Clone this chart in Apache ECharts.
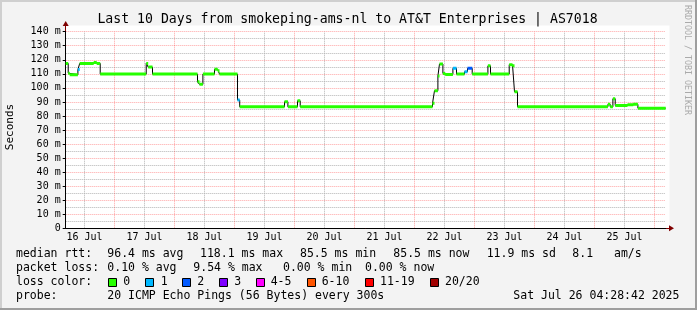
<!DOCTYPE html>
<html>
<head>
<meta charset="utf-8">
<script src="https://cdn.jsdelivr.net/npm/echarts@6/dist/echarts.min.js"></script>
<style>
html,body{margin:0;padding:0;background:#f3f3f3;}
#c{width:697px;height:310px;}
</style>
</head>
<body>
<div id="c"></div>
<script>
// ---------------- DATA ----------------
// x values are hours since 16 Jul 00:00
const rangeStart = 4.478;   // 16 Jul 04:28:42
const rangeEnd = 244.478;   // 26 Jul 04:28:42
const dayLabels = ['16 Jul','17 Jul','18 Jul','19 Jul','20 Jul','21 Jul','22 Jul','23 Jul','24 Jul','25 Jul'];
const yTickValues = [0,10,20,30,40,50,60,70,80,90,100,110,120,130,140];
const yUnit = ' m';
// median rtt step changes (ms): start hour, value, loss class index
const segStart = [4.478,5.48,6.08,9.36,10.08,15.68,16.88,18.28,36.68,37.48,39.2,57.2,58.0,59.36,64.0,65.28,66.0,73.2,74.08,92.0,93.36,97.2,98.28,151.2,152.0,153.36,154.0,155.36,156.28,159.36,160.8,164.0,165.2,167.08,173.36,174.4,181.88,183.2,184.0,185.2,221.36,222.28,223.36,224.28,229.2,231.48,233.36];
const segMedian = [117.4,110.5,109.4,113.0,117.4,118.1,117.4,109.8,117.4,114.8,109.8,104.3,102.5,109.8,113.2,112.2,109.8,91.3,86.5,90.1,86.5,90.8,86.5,89.0,98.0,108.4,117.0,110.3,109.6,113.9,109.8,111.5,113.9,109.8,115.7,109.8,116.5,115.7,97.2,86.5,88.3,86.5,92.3,87.5,88.0,88.3,85.5];
const segLoss = [0,0,0,1,0,0,0,0,0,0,0,0,0,0,0,0,0,1,0,0,0,0,0,0,0,0,0,0,0,1,0,1,2,0,0,0,0,0,0,0,0,0,0,0,0,0,0];
const lossBins = ['0','1','2','3','4-5','6-10','11-19','20/20'];
const lossColors = ['#26ff00','#00b8ff','#0059ff','#7e00ff','#ff00ff','#ff5500','#ff0000','#a10000'];
const titleText = 'Last 10 Days from smokeping-ams-nl to AT&T Enterprises | AS7018';
const yName = 'Seconds';
const medianRtt = ['median rtt:','96.4 ms avg','118.1 ms max','85.5 ms min','85.5 ms now','11.9 ms sd','8.1','am/s'];
const packetLoss = ['packet loss:','0.10 % avg','9.54 % max','0.00 % min','0.00 % now'];
const lossHeader = 'loss color:';
const probeRow = ['probe:','20 ICMP Echo Pings (56 Bytes) every 300s','Sat Jul 26 04:28:42 2025'];
const creditText = 'RRDTOOL / TOBI OETIKER';

// ---------------- LAYOUT ----------------
const W = 697, H = 310;
const PL = 65.7, PR = 665.7, PT = 31.7, PB = 228.3;
const pxPerHour = (PR - PL) / (rangeEnd - rangeStart);
const MONO = "'DejaVu Sans Mono', monospace";
const row1X = [16,107.3,200,300,393.3,486.7,572.3,614];
const row2X = [16,107.3,193.3,283,365];
const row4X = [16,107.3,513.3];
const boxX = [108.5,145.5,182.5,219.5,256.5,307.5,365.5,430.5];
const boxLabelX = [123.3,160.7,197.3,234.3,270.7,321.7,380,445];
const rowY = [254.3,268.3,282.3,296.3];
const RED = 'rgba(255,40,40,0.42)';
const GRAY = '#b4b4b4';

// grid helper positions derived from data
const noonHours = dayLabels.map((_,i)=>12+24*i);
const midnightHours = dayLabels.map((_,i)=>24+24*i);
const minorY = yTickValues.slice(0,-1).map((v,i)=>(v+yTickValues[i+1])/2);

// ---------------- SERIES ----------------
const blackData = segStart.map((t,i)=>[t, segMedian[i]]);
blackData.push([rangeEnd, segMedian[segMedian.length-1]]);

function lossSeries(k){
  const d = [];
  for (let i=0;i<segStart.length;i++){
    if (segLoss[i] !== k) continue;
    const t1 = i+1 < segStart.length ? segStart[i+1] : rangeEnd;
    d.push([segStart[i], segMedian[i]]);
    d.push([t1, segMedian[i]]);
    d.push([t1, '-']);
  }
  return {
    type:'line', xAxisIndex:0, yAxisIndex:0, data:d, showSymbol:false,
    connectNulls:false, z:4, animation:false,
    lineStyle:{color:lossColors[k], width:3, cap:'butt'}
  };
}
const gridLineSeries = {
  type:'line', xAxisIndex:0, yAxisIndex:0, data:[], silent:true, z:1, animation:false,
  markLine:{
    silent:true, animation:false, z:1, symbol:['none','none'], label:{show:false},
    lineStyle:{type:[1,1], width:1},
    emphasis:{disabled:true},
    data:[].concat(
      minorY.map(v=>({yAxis:v, lineStyle:{color:GRAY, type:[1,1], width:1}})),
      noonHours.map(h=>({xAxis:h, lineStyle:{color:GRAY, type:[1,1], width:1}})),
      midnightHours.map(h=>({xAxis:h, lineStyle:{color:RED, type:[1,1], width:1}}))
    )
  }
};
const series = [gridLineSeries, {
  type:'line', xAxisIndex:0, yAxisIndex:0, data:blackData, step:'end',
  showSymbol:false, z:3, animation:false,
  lineStyle:{color:'#000', width:1}
}];
[0,1,2].forEach(k=>series.push(lossSeries(k)));

// ---------------- GRAPHICS ----------------
const graphics = [];
function txt(x,y,s,opt){
  graphics.push(Object.assign({type:'text', x:x, y:y, z:10, silent:true,
    style:Object.assign({text:s, fontFamily:MONO, fontSize:11.5, fill:'#000', align:'left', verticalAlign:'middle'}, opt||{})}));
}
// frame shading
graphics.push({type:'rect', shape:{x:0,y:0,width:W,height:2}, style:{fill:'#cfcfcf'}, z:10, silent:true});
graphics.push({type:'rect', shape:{x:0,y:0,width:2,height:H}, style:{fill:'#cfcfcf'}, z:10, silent:true});
graphics.push({type:'rect', shape:{x:0,y:H-2,width:W,height:2}, style:{fill:'#9e9e9e'}, z:10, silent:true});
graphics.push({type:'rect', shape:{x:W-2,y:0,width:2,height:H}, style:{fill:'#9e9e9e'}, z:10, silent:true});
// title
txt(347.5, 19.3, titleText, {fontSize:13.2, align:'center'});
// y name
graphics.push({type:'text', x:10.5, y:127, rotation:Math.PI/2, z:10, silent:true,
  style:{text:yName, fontFamily:MONO, fontSize:11, fill:'#000', align:'center', verticalAlign:'middle'}});
// credit
graphics.push({type:'text', x:687.5, y:60, rotation:-Math.PI/2, z:10, silent:true,
  style:{text:creditText, fontFamily:MONO, fontSize:8.3, fill:'#aaaaaa', align:'center', verticalAlign:'middle'}});
// legend rows
medianRtt.forEach((s,i)=>txt(row1X[i], rowY[0], s));
packetLoss.forEach((s,i)=>txt(row2X[i], rowY[1], s));
txt(16, rowY[2], lossHeader);
lossBins.forEach((s,i)=>{
  graphics.push({type:'rect', shape:{x:boxX[i], y:278.5, width:8, height:8}, z:10, silent:true,
    style:{fill:lossColors[i], stroke:'#000', lineWidth:1}});
  txt(boxLabelX[i], rowY[2], s);
});
probeRow.forEach((s,i)=>txt(row4X[i], rowY[3], s));

// ---------------- CHART ----------------
const chart = echarts.init(document.getElementById('c'), null, {renderer:'canvas', width:W, height:H});
chart.setOption({
  animation:false,
  backgroundColor:'#f3f3f3',
  grid:[
    {left:PL, top:PT, width:PR-PL, height:PB-PT, containLabel:false},
    {left:PL - rangeStart*pxPerHour, top:PT, width:rangeEnd*pxPerHour, height:PB-PT, containLabel:false},
    {left:PL, top:25.5, width:669.5-PL, height:PB-25.5, containLabel:false, show:true, backgroundColor:'#ffffff', borderWidth:0}
  ],
  xAxis:[
    {gridIndex:0, type:'value', min:rangeStart, max:rangeEnd, position:'bottom', z:2,
     axisLine:{show:true, onZero:false, lineStyle:{color:'#000', width:1}},
     axisTick:{show:false}, axisLabel:{show:false}, splitLine:{show:false}},
    {gridIndex:1, type:'value', min:0, max:rangeEnd, interval:12, position:'bottom', z:1,
     axisLine:{show:false}, axisTick:{show:false},
     axisLabel:{show:true, margin:4, fontFamily:MONO, fontSize:10, color:'#000',
       showMinLabel:true, showMaxLabel:true,
       formatter:function(v){ const r = Math.round(v); if (Math.abs(v-r)>1e-6) return ''; if (r % 24 === 12) { const idx=(r-12)/24; return dayLabels[idx] || ''; } return ''; }},
     splitLine:{show:false}},
    {gridIndex:2, type:'value', min:0, max:1, position:'bottom', z:0,
     axisLine:{show:true, onZero:false, symbol:['none','triangle'], symbolSize:[6,5], symbolOffset:[0,2], lineStyle:{color:'#7f0000', width:1}},
     axisTick:{show:false}, axisLabel:{show:false}, splitLine:{show:false}}
  ],
  yAxis:[
    {gridIndex:0, type:'value', min:yTickValues[0], max:yTickValues[yTickValues.length-1], interval:yTickValues[1]-yTickValues[0], z:2,
     axisLine:{show:true, onZero:false, lineStyle:{color:'#000', width:1}},
     axisTick:{show:true, length:3, lineStyle:{color:'#000'}},
     axisLabel:{margin:5, fontFamily:MONO, fontSize:10, color:'#000',
       formatter:function(v){ return v===0 ? '0' : v + yUnit; }},
     splitLine:{show:true, lineStyle:{color:RED, width:1, type:[1,1]}}},
    {gridIndex:1, type:'value', min:0, max:1, show:false},
    {gridIndex:2, type:'value', min:0, max:1, z:0,
     axisLine:{show:true, onZero:false, symbol:['none','triangle'], symbolSize:[6,5], symbolOffset:[0,2], lineStyle:{color:'#7f0000', width:1}},
     axisTick:{show:false}, axisLabel:{show:false}, splitLine:{show:false}}
  ],
  series:series,
  graphic:graphics
});
</script>
</body>
</html>
